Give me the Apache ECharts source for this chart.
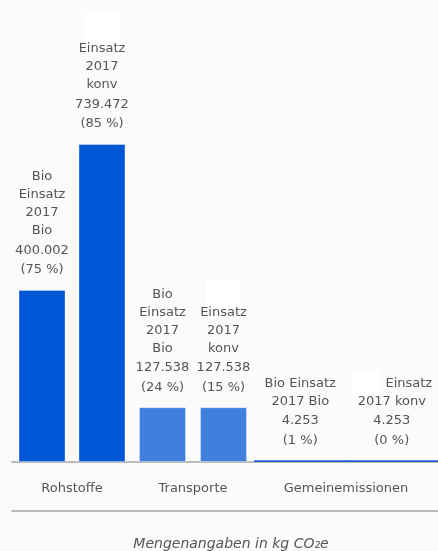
<!DOCTYPE html>
<html>
<head>
<meta charset="utf-8">
<script src="https://cdn.jsdelivr.net/npm/echarts@6/dist/echarts.min.js"></script>
<style>
html, body { margin: 0; padding: 0; background: #fbfbfb; }
#chart { width: 438px; height: 551px; }
</style>
</head>
<body>
<div id="chart"></div>
<script>
// Daten
var groups = ['Rohstoffe', 'Transporte', 'Gemeinemissionen'];
var bioName = 'Bio Einsatz 2017 Bio';
var konvName = 'Bio Einsatz 2017 konv';
var bioValues = [400002, 127538, 4253];
var konvValues = [739472, 127538, 4253];
var bioShares = [75, 24, 1];
var konvShares = [85, 15, 0];

var font = 'DejaVu Sans, Verdana, sans-serif';
var groupColors = ['#0057d6', '#4080dc', '#1c5cd2'];
var gridLeft = [12, 132, 254];
var gridWidth = [120, 122, 194];
var barWidths = [47, 47, 93];
var maskSize = [[35, 36], [35, 28], [30, 26]];

function fmt(v) {
  return String(v).replace(/\B(?=(\d{3})+(?!\d))/g, '.');
}

function makeLabel(g, idx) {
  var words = (idx === 0 ? bioName : konvName).split(' ');
  var val = idx === 0 ? bioValues[g] : konvValues[g];
  var share = idx === 0 ? bioShares[g] : konvShares[g];
  var wide = g === 2;
  // beim konv-Balken ist das erste Wort weiss abgedeckt
  var first = idx === 0 ? '{n|' + words[0] + '}' : '{w|}';
  var lines;
  if (wide) {
    lines = [first + '{n| ' + words[1] + '}', '{n|' + words[2] + ' ' + words[3] + '}'];
  } else {
    lines = [first, '{n|' + words[1] + '}', '{n|' + words[2] + '}', '{n|' + words[3] + '}'];
  }
  lines.push('{v1|' + fmt(val) + '}');
  lines.push('{v|(' + share + ' %)}');
  return lines.join('\n');
}

var myChart = echarts.init(document.getElementById('chart'));

var grids = [], xAxes = [], yAxes = [], series = [];
groups.forEach(function (name, i) {
  grids.push({ left: gridLeft[i], width: gridWidth[i], top: 32, bottom: 89 });
  xAxes.push({
    gridIndex: i,
    type: 'category',
    data: ['Bio', 'konv'],
    offset: 2,
    axisLine: { lineStyle: { color: '#bbb', width: 2 } },
    axisTick: { show: false },
    axisLabel: { show: false }
  });
  xAxes.push({
    gridIndex: i,
    type: 'category',
    data: [name],
    position: 'bottom',
    offset: 49,
    axisLine: { lineStyle: { color: '#bbb', width: 2 } },
    axisTick: { show: false },
    axisLabel: { inside: true, margin: 16, color: '#555', fontSize: 13, fontFamily: font }
  });
  yAxes.push({ gridIndex: i, type: 'value', min: 0, max: 1000000, show: false });
  series.push({
    type: 'bar',
    xAxisIndex: i * 2,
    yAxisIndex: i,
    barWidth: barWidths[i],
    data: [bioValues[i], konvValues[i]],
    itemStyle: {
      color: groupColors[i],
      borderColor: 'rgba(255,255,255,0.35)',
      borderWidth: i === 2 ? 0 : 1
    },
    label: {
      show: true,
      position: 'top',
      distance: 11,
      formatter: function (p) { return makeLabel(i, p.dataIndex); },
      rich: {
        n: { fontFamily: font, fontSize: 13, color: '#555', lineHeight: 18 },
        v1: { fontFamily: font, fontSize: 13, color: '#555', lineHeight: 21 },
        v: { fontFamily: font, fontSize: 13, color: '#555', lineHeight: 18 },
        w: { width: maskSize[i][0], height: maskSize[i][1], lineHeight: 18, backgroundColor: '#fff' }
      }
    }
  });
});

var option = {
  backgroundColor: '#fbfbfb',
  animation: false,
  title: {
    text: 'Mengenangaben in kg CO₂e',
    left: 226,
    textAlign: 'center',
    top: 532,
    textStyle: { fontStyle: 'italic', fontWeight: 'normal', fontSize: 14, color: '#555', fontFamily: font }
  },
  grid: grids,
  xAxis: xAxes,
  yAxis: yAxes,
  series: series
};
myChart.setOption(option);
</script>
</body>
</html>
